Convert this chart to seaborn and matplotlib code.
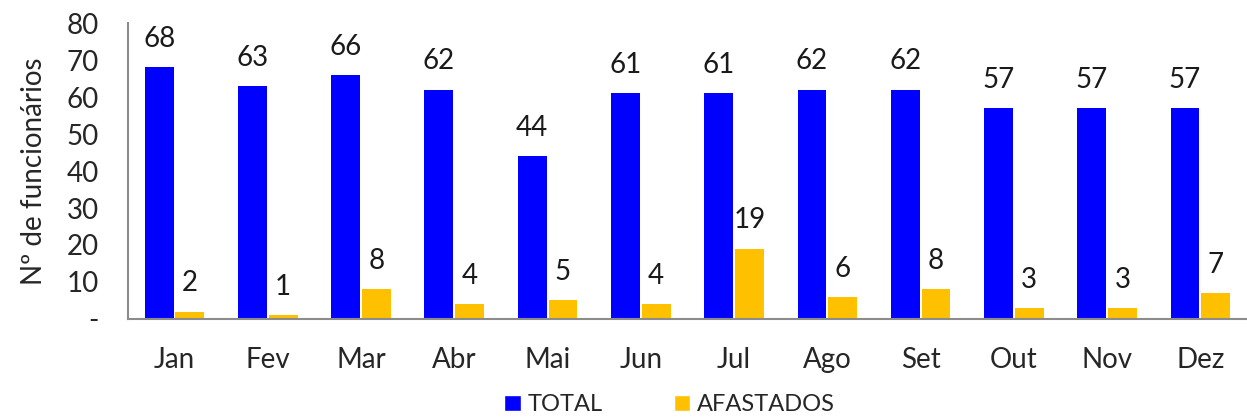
import numpy as np
import pandas as pd
import matplotlib
matplotlib.use("Agg")
import matplotlib.pyplot as plt
from matplotlib.patches import Patch
import seaborn as sns

# ── DATA ──────────────────────────────────────────────────────────
meses     = ["Jan", "Fev", "Mar", "Abr", "Mai", "Jun", "Jul", "Ago", "Set", "Out", "Nov", "Dez"]
total     = [68, 63, 66, 62, 44, 61, 61, 62, 62, 57, 57, 57]
afastados = [2, 1, 8, 4, 5, 4, 19, 6, 8, 3, 3, 7]
series    = ["TOTAL", "AFASTADOS"]
y_ticks   = [0, 10, 20, 30, 40, 50, 60, 70, 80]
y_labels  = ["-", "10", "20", "30", "40", "50", "60", "70", "80"]

df = pd.DataFrame({
    "Mes"  : meses * 2,
    "Serie": [series[0]] * len(meses) + [series[1]] * len(meses),
    "Valor": total + afastados,
})

# ── STYLE ─────────────────────────────────────────────────────────
sns.set_style("white")
plt.rcParams["font.family"] = ["Lato", "DejaVu Sans"]
cores = ["#0000FF", "#FFC000"]
cinza = "#8C8C8C"
fs = 20

fig = plt.figure(figsize=(12.47, 4.19), dpi=100)
ax = fig.add_axes([0.1026, 0.2387, 0.8974, 0.7063])

sns.barplot(data=df, x="Mes", y="Valor", hue="Serie", order=meses, hue_order=series,
            palette=cores, width=0.66, gap=0.06, saturation=1, legend=False, ax=ax,
            edgecolor="none")

for cont in ax.containers:
    ax.bar_label(cont, fontsize=fs, padding=11, color="#1a1a1a")

ax.set_xlim(-0.5, 11.5)
ax.set_ylim(0, 80)
ax.set_yticks(y_ticks)
ax.set_yticklabels(y_labels, fontsize=fs)
ax.set_xlabel("")
ax.set_ylabel("Nº de funcionários", fontsize=fs, labelpad=14)

# month separators as minor ticks
ax.set_xticks(np.arange(-0.5, 12, 1), minor=True)
ax.tick_params(axis="x", which="major", length=0, labelsize=fs, pad=20)
ax.tick_params(axis="x", which="minor", length=9, width=1.5, color=cinza, direction="out")
ax.tick_params(axis="y", length=9, width=1.5, color=cinza, direction="out", pad=12)

for s in ["top", "right"]:
    ax.spines[s].set_visible(False)
for s in ["left", "bottom"]:
    ax.spines[s].set_color(cinza)
    ax.spines[s].set_linewidth(1.5)

handles = [Patch(facecolor=c, label=s) for c, s in zip(cores, series)]
fig.legend(handles=handles, loc="lower center", bbox_to_anchor=(0.537, -0.042), ncol=2,
           frameon=False, fontsize=17, handlelength=0.7, handleheight=0.7,
           handletextpad=0.3, columnspacing=3.0)

fig.savefig("out.png", dpi=100)
